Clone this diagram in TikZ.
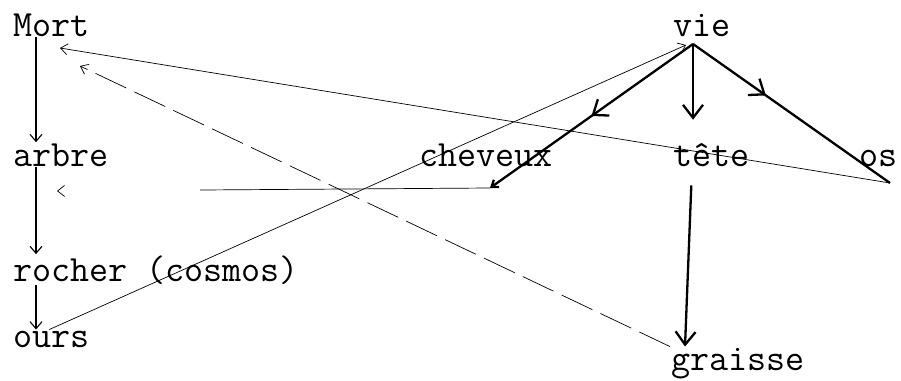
\documentclass[tikz,border=0pt]{standalone}
\usepackage{fontspec}
\usepackage{tikz}
\usetikzlibrary{arrows.meta,positioning,calc,decorations.markings}

\begin{document}
\begin{tikzpicture}[
      x=1pt, y=-1pt,
      word/.style={anchor=base west, inner sep=1pt, font=\fontsize{37}{40}\selectfont\ttfamily},
      arrow/.style={>={Straight Barb[length=7pt,width=12pt]}, ->, line width=1.1pt},
      faint/.style={>={Straight Barb[length=7pt,width=11pt]}, ->, line width=0.7pt},
      heavy/.style={>={Straight Barb[length=13pt,width=20pt]}, line width=2.3pt},
      midarrow/.style={postaction={decorate}, decoration={markings, mark=at position #1 with {\arrow{>}}}},
    ]
    \useasboundingbox (0,0) rectangle (901,380);
    \node [word] (mort) at (12,36) {Mort};
    \node [word] (vie) at (672,36) {vie};
    \node [word] (arbre) at (12,166) {arbre};
    \node [word] (cheveux) at (418,166) {cheveux};
    \node [word] (tete) at (672,166) {tête};
    \node [word] (os) at (858,166) {os};
    \node [word] (rocher) at (12,281) {rocher (cosmos)};
    \node [word] (ours) at (12,347) {ours};
    \node [word] (graisse) at (670,370) {graisse};
    % free ends of the connectors
    \coordinate (hub) at (693,44);
    \coordinate (viein) at (686,45);
    \coordinate (chevfoot) at (490,188);
    \coordinate (osfoot) at (890,183);
    \coordinate (morttip) at (60,48);
    \coordinate (mortcorner) at (80,66);
    \coordinate (arbretip) at (57,191);
    % left column
    \draw [arrow] ([xshift=24pt]mort.south west) -- ([xshift=24pt]arbre.north west);
    \draw [arrow] ([xshift=24pt]arbre.south west) -- ([xshift=24pt]rocher.north west);
    \draw [arrow] ([xshift=24pt]rocher.south west) -- ([xshift=24pt]ours.north west);
    % from vie
    \draw [heavy, midarrow=0.5, -{Straight Barb[length=6pt,width=9pt]}] (hub) -- (chevfoot);
    \draw [heavy, ->, shorten >=22pt] (hub) -- (tete.north -| hub);
    \draw [heavy, midarrow=0.37] (hub) -- (osfoot);
    \draw [heavy, ->, shorten <=18pt] ([xshift=20pt]tete.south west) -- ([xshift=15pt]graisse.north west);
    % thin lines
    \draw [faint] ([xshift=-2pt]ours.north) -- (viein);
    \draw [faint] (osfoot) -- (morttip);
    \draw [faint, dash pattern=on 34pt off 9pt] (graisse.north west) -- (mortcorner);
    \draw [faint, dash pattern=on 290pt off 300pt] (chevfoot) -- (arbretip);
  \end{tikzpicture}
\end{document}
